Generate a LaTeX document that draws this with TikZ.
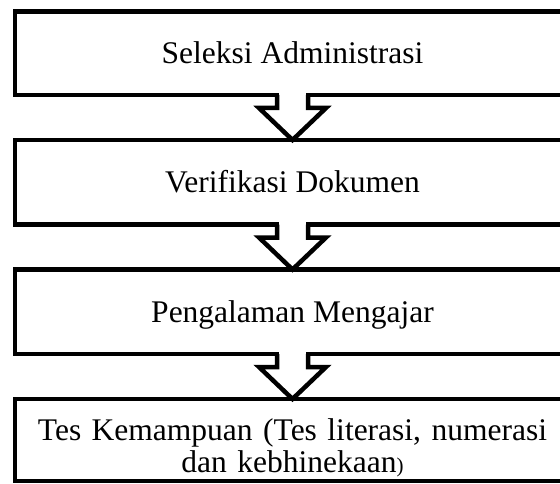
\documentclass[tikz,border=0pt]{standalone}
\usepackage{fontspec}
\setmainfont{Liberation Serif}
\usetikzlibrary{calc}
\begin{document}
\begin{tikzpicture}[x=1pt,y=1pt,
  box/.style={draw, line width=4.5pt, line join=miter, rectangle, minimum width=555pt, outer sep=0pt, inner sep=0pt},
  txt/.style={font=\fontsize{31.5}{32}\selectfont, inner sep=0pt, anchor=base},
  flow/.style={line width=4.5pt, line join=miter, miter limit=10},
  gap/.style={fill=white}
]
\useasboundingbox (0,0) rectangle (560,483);
\clip (0,0) rectangle (560,483);
% boxes
\node[box, minimum height=83.5pt] (b1) at (292.5,429.75) {};
\node[box, minimum height=84.5pt] (b2) at (292.5,300.75) {};
\node[box, minimum height=84.5pt] (b3) at (292.5,171.25) {};
\node[box, minimum height=82pt]   (b4) at (292.5,43) {};
% block arrows
\foreach \a/\b in {b1/b2,b2/b3,b3/b4}{
  \fill[gap] ($(\a.south)+(-13.25,2.6)$) rectangle ($(\a.south)+(13.25,-2.6)$);
  \draw[flow] ($(\a.south)+(-15.5,0)$) -- ($(\a.south)+(-15.5,-13)$)
     -- ($(\a.south)+(-33.5,-13)$) -- (\b.north)
     -- ($(\a.south)+(33.5,-13)$) -- ($(\a.south)+(15.5,-13)$)
     -- ($(\a.south)+(15.5,0)$);
}
% texts
\node[txt] (t1) at ($(b1.center)+(0,-10)$) {Seleksi Administrasi};
\node[txt] (t2) at ($(b2.center)+(0,-10.5)$) {Verifikasi Dokumen};
\node[txt] (t3) at ($(b3.center)+(0,-10.5)$) {Pengalaman Mengajar};
\node[txt, text width=535pt, align=center] (t4) at (b4.center)
  {Tes Kemampuan (Tes literasi, numerasi\\dan kebhinekaan{\fontsize{21}{21}\selectfont)}};
\end{tikzpicture}
\end{document}
